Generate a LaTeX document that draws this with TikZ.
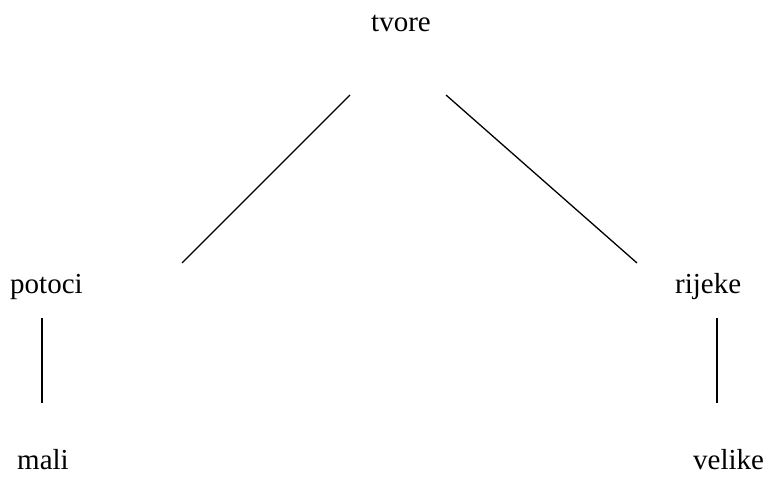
\documentclass[tikz,border=0pt]{standalone}
\usepackage{fontspec}
\setmainfont{Liberation Serif}
\begin{document}
\begin{tikzpicture}[x=1pt,y=1pt,
  lbl/.style={anchor=base west,inner sep=0pt,font=\fontsize{29}{31}\selectfont},
  edge/.style={line width=1.3pt}]
\useasboundingbox (0,0) rectangle (767,477);
\node[lbl] (tvore) at (371,445) {tvore};
\node[lbl] (potoci) at (10,184) {potoci};
\node[lbl] (rijeke) at (675,184) {rijeke};
\node[lbl] (mali) at (17,8) {mali};
\node[lbl] (velike) at (693,8) {velike};
\coordinate (t1) at (350,382);
\coordinate (t2) at (446,382);
\coordinate (p1) at (182,214);
\coordinate (r1) at (637,214);
\coordinate (p2) at (42,159);
\coordinate (m1) at (42,74);
\coordinate (r2) at (717,159);
\coordinate (v1) at (717,74);
\draw[edge] (t1) -- (p1);
\draw[edge] (t2) -- (r1);
\draw[edge] (p2) -- (m1);
\draw[edge] (r2) -- (v1);
\end{tikzpicture}
\end{document}
